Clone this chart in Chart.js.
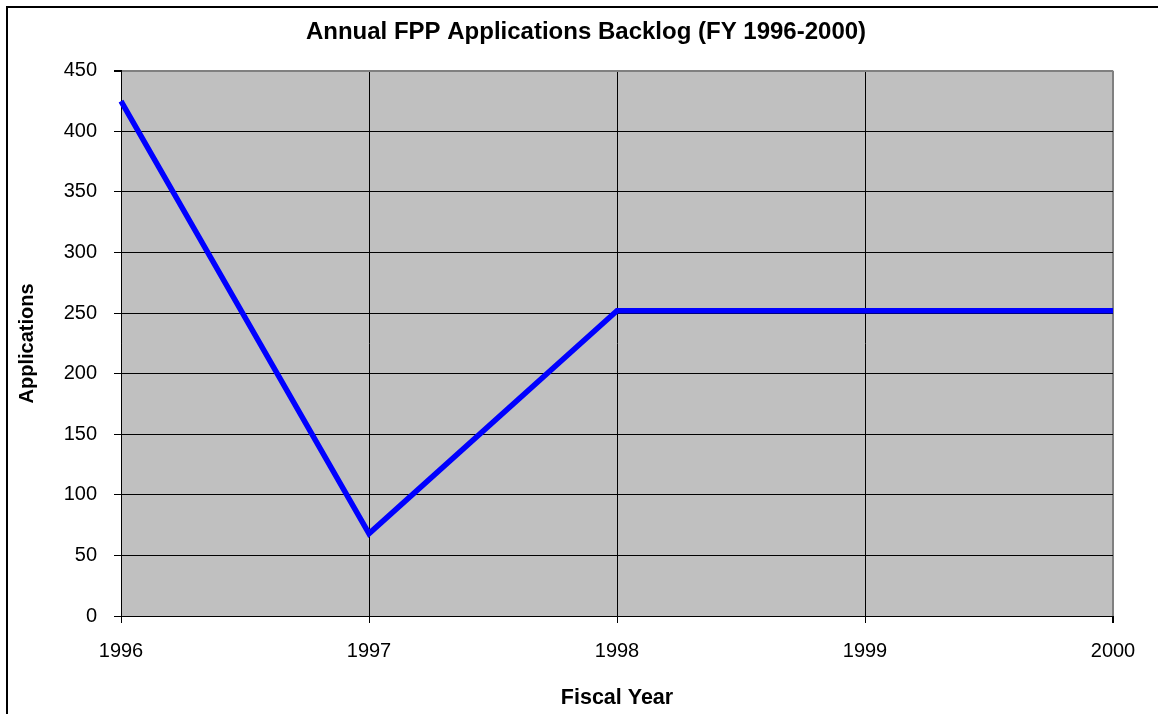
<!DOCTYPE html>
<html>
<head>
<meta charset="utf-8">
<title>Annual FPP Applications Backlog</title>
<script src="https://cdn.jsdelivr.net/npm/chart.js@4/dist/chart.umd.min.js"></script>
<style>
  html, body { margin: 0; padding: 0; background: #fff; overflow: hidden; }
  #wrap { width: 1158px; height: 714px; position: relative; }
</style>
</head>
<body>
<div id="wrap"><canvas id="backlog" width="1158" height="714"></canvas></div>
<script>
var years = ["1996", "1997", "1998", "1999", "2000"];
var backlog = [425, 68, 252, 252, 252];
var yTicks = [0, 50, 100, 150, 200, 250, 300, 350, 400, 450];

var FONT = "'Liberation Sans', Arial, Helvetica, sans-serif";

// grey plot area + outer frame around the whole chart
var framePlugin = {
  id: "frame",
  beforeDraw: function (chart) {
    var ctx = chart.ctx;
    var a = chart.chartArea;
    ctx.save();
    ctx.fillStyle = "#ffffff";
    ctx.fillRect(0, 0, chart.width, chart.height);
    ctx.fillStyle = "#c0c0c0";
    ctx.fillRect(a.left, a.top, a.right - a.left, a.bottom - a.top);
    ctx.strokeStyle = "#000";
    ctx.lineWidth = 2;
    ctx.strokeRect(7, 7, chart.width + 20, chart.height + 20);
    ctx.restore();
  }
};

new Chart(document.getElementById("backlog"), {
  type: "line",
  data: {
    labels: years,
    datasets: [
      {
        label: "Backlog",
        data: backlog,
        borderColor: "#0000ff",
        borderWidth: 5.5,
        pointRadius: 0,
        tension: 0,
        fill: false,
        borderJoinStyle: "miter"
      }
    ]
  },
  options: {
    responsive: false,
    animation: false,
    layout: { padding: { left: 59, right: 45, top: 0, bottom: 0 } },
    plugins: {
      legend: { display: false },
      tooltip: { enabled: false },
      title: {
        display: true,
        text: "Annual FPP Applications Backlog (FY 1996-2000)",
        color: "#000",
        font: { family: FONT, size: 24, weight: "bold" },
        padding: { top: 18, bottom: 24 }
      }
    },
    scales: {
      x: {
        type: "category",
        offset: false,
        afterFit: function (axis) { axis.height = 98; },
        border: { color: "#000", width: 1 },
        grid: {
          color: function (c) { return c.index === years.length - 1 ? "#808080" : "#000"; },
          lineWidth: function (c) { return c.index === years.length - 1 ? 2 : 1; },
          tickLength: 7,
          tickColor: "#000"
        },
        ticks: {
          color: "#000",
          font: { family: FONT, size: 20 },
          maxRotation: 0,
          padding: 16
        },
        title: {
          display: true,
          text: "Fiscal Year",
          color: "#000",
          font: { family: FONT, size: 21.5, weight: "bold" },
          padding: { top: 0, bottom: 3 }
        }
      },
      y: {
        min: 0,
        max: 450,
        afterFit: function (axis) { axis.width = 62; },
        afterBuildTicks: function (axis) {
          axis.ticks = yTicks.map(function (v) { return { value: v }; });
        },
        border: { color: "#000", width: 1 },
        grid: {
          color: function (c) { return c.tick && c.tick.value === 450 ? "#808080" : "#000"; },
          lineWidth: function (c) { return c.tick && c.tick.value === 450 ? 2 : 1; },
          tickLength: 7,
          tickColor: "#000"
        },
        ticks: {
          color: "#000",
          font: { family: FONT, size: 20 },
          padding: 17,
          callback: function (v) { return String(v); }
        },
        title: {
          display: true,
          text: "Applications",
          color: "#000",
          font: { family: FONT, size: 20, weight: "bold" },
          // the axis box starts at the left padding, pull the title back out to the edge
          padding: { top: -44, bottom: 0 }
        }
      }
    }
  },
  plugins: [framePlugin]
});
</script>
</body>
</html>
